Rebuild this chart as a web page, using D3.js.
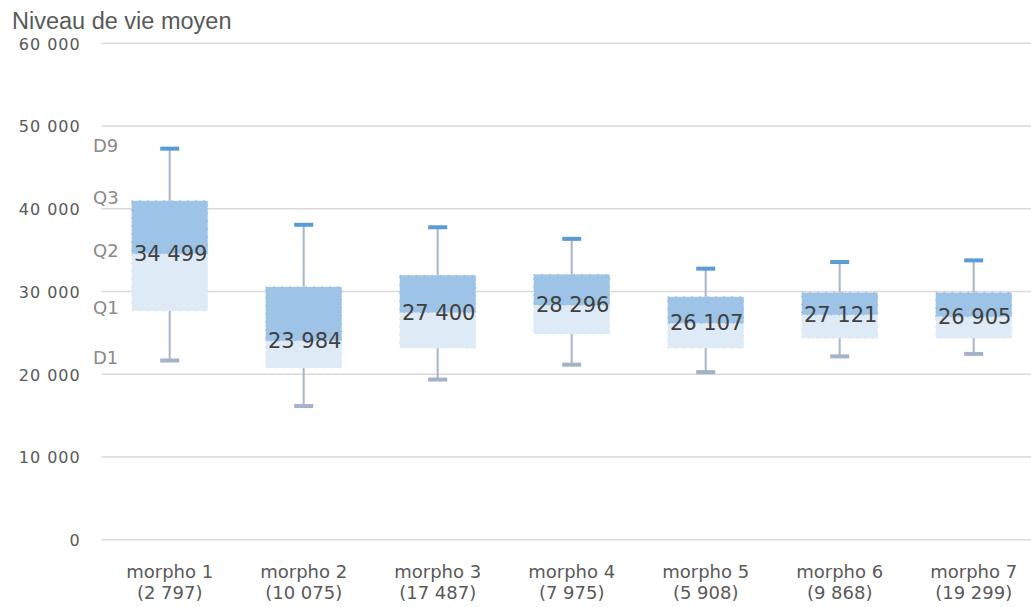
<!DOCTYPE html>
<html>
<head>
<meta charset="utf-8">
<script src="https://cdn.jsdelivr.net/npm/d3@7"></script>
<style>
  html, body { margin: 0; padding: 0; background: #ffffff; }
  svg { display: block; }
</style>
</head>
<body>
<svg id="chart" width="1031" height="607"></svg>
<script>
// ---- data ----
const categories = ["morpho 1", "morpho 2", "morpho 3", "morpho 4", "morpho 5", "morpho 6", "morpho 7"];
const counts = ["(2 797)", "(10 075)", "(17 487)", "(7 975)", "(5 908)", "(9 868)", "(19 299)"];
const d1Values = [21600, 16100, 19300, 21100, 20200, 22100, 22400];
const q1Values = [27600, 20700, 23100, 24800, 23100, 24300, 24300];
const medianValues = [34499, 23984, 27400, 28296, 26107, 27121, 26905];
const q3Values = [40900, 30500, 31900, 32000, 29300, 29800, 29800];
const d9Values = [47200, 38000, 37700, 36300, 32700, 33500, 33700];
const yTicks = [0, 10000, 20000, 30000, 40000, 50000, 60000];
const quantileNames = ["D1", "Q1", "Q2", "Q3", "D9"];
const title = "Niveau de vie moyen";

// ---- setup ----
const svg = d3.select("#chart");
const locale = d3.formatLocale({ decimal: ",", thousands: "\u00a0", grouping: [3], currency: ["", ""] });
const fmt = locale.format(",d");

const x = d3.scaleBand().domain(categories).range([102.7, 1040.7]).paddingInner(0.433).paddingOuter(0.2165);
const y = d3.scaleLinear().domain([0, 60000]).range([539.3, 42.7]);

const rows = categories.map((c, i) => ({
  cat: c, count: counts[i], d1: d1Values[i], q1: q1Values[i], med: medianValues[i], q3: q3Values[i], d9: d9Values[i]
}));

// gridlines + y labels via axis
const yAxis = d3.axisLeft(y).tickValues(yTicks).tickSize(-(1040.7 - 101.7)).tickFormat(fmt).tickPadding(21);
const gy = svg.append("g").attr("transform", "translate(101.7,0)").call(yAxis);
gy.select(".domain").remove();
gy.selectAll(".tick line").attr("stroke", "#d9d9d9").attr("stroke-width", 1.5);
gy.selectAll(".tick text")
  .attr("fill", "#595959")
  .attr("font-family", "DejaVu Sans, sans-serif")
  .attr("font-size", 16)
  .attr("letter-spacing", 1)
  .attr("dy", "0.4em");

// title
svg.append("text").attr("x", 12).attr("y", 29)
  .attr("font-family", "Liberation Sans, Arial, sans-serif").attr("font-size", 23.5)
  .attr("fill", "#595959").text(title);

const bw = x.bandwidth();
const cx = d => x(d.cat) + bw / 2;

const g = svg.append("g");
// whiskers
g.selectAll("line.wu").data(rows).join("line")
  .attr("x1", cx).attr("x2", cx).attr("y1", d => y(d.q3)).attr("y2", d => y(d.d9))
  .attr("stroke", "#a7b5c9").attr("stroke-width", 2);
g.selectAll("line.wl").data(rows).join("line")
  .attr("x1", cx).attr("x2", cx).attr("y1", d => y(d.q1)).attr("y2", d => y(d.d1))
  .attr("stroke", "#a7b5c9").attr("stroke-width", 2);
// caps
g.selectAll("rect.capu").data(rows).join("rect")
  .attr("x", d => cx(d) - 9.5).attr("width", 19)
  .attr("y", d => y(d.d9) - 2).attr("height", 4)
  .attr("fill", "#5b9bd5");
g.selectAll("rect.capl").data(rows).join("rect")
  .attr("x", d => cx(d) - 9.5).attr("width", 19)
  .attr("y", d => y(d.d1) - 2).attr("height", 4)
  .attr("fill", "#a3b2c8");
// lower box (Q1 - median)
g.selectAll("rect.lo").data(rows).join("rect")
  .attr("x", d => x(d.cat)).attr("width", bw)
  .attr("y", d => y(d.med)).attr("height", d => y(d.q1) - y(d.med))
  .attr("fill", "#deebf7")
  .attr("stroke", "#c9d9ee").attr("stroke-width", 1).attr("stroke-dasharray", "1 7");
// upper box (median - Q3)
g.selectAll("rect.up").data(rows).join("rect")
  .attr("x", d => x(d.cat)).attr("width", bw)
  .attr("y", d => y(d.q3)).attr("height", d => y(d.med) - y(d.q3))
  .attr("fill", "#9dc3e6")
  .attr("stroke", "#7fa6d3").attr("stroke-width", 1).attr("stroke-dasharray", "1 7");
// median labels
g.selectAll("text.med").data(rows).join("text")
  .attr("x", d => cx(d) + 1).attr("y", d => y(d.med) + 7)
  .attr("text-anchor", "middle")
  .attr("font-family", "DejaVu Sans, sans-serif").attr("font-size", 21)
  .attr("fill", "#404040")
  .text(d => fmt(d.med));

// quantile names next to first box
const first = rows[0];
const qVals = [first.d1, first.q1, first.med, first.q3, first.d9];
svg.selectAll("text.qn").data(quantileNames).join("text")
  .attr("x", 93).attr("y", (d, i) => y(qVals[i]) + 3)
  .attr("font-family", "DejaVu Sans, sans-serif").attr("font-size", 18)
  .attr("fill", "#8a8a8a")
  .text(d => d);

// x labels
const xl = svg.selectAll("g.xl").data(rows).join("g")
  .attr("transform", d => `translate(${cx(d)},0)`);
xl.append("text").attr("y", 578).attr("text-anchor", "middle")
  .attr("font-family", "DejaVu Sans, sans-serif").attr("font-size", 18)
  .attr("fill", "#595959").text(d => d.cat);
xl.append("text").attr("y", 599).attr("text-anchor", "middle")
  .attr("font-family", "DejaVu Sans, sans-serif").attr("font-size", 18)
  .attr("fill", "#595959").text(d => d.count);
</script>
</body>
</html>
